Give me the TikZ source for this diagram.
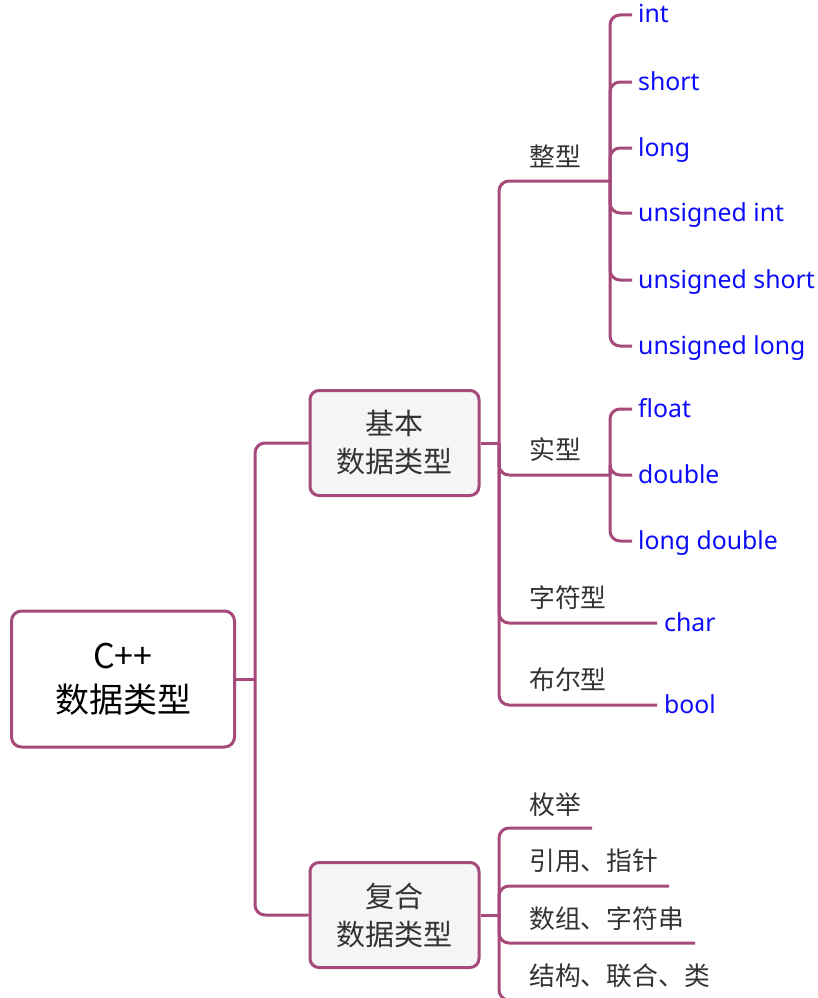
\documentclass[tikz,border=0pt]{standalone}
\usepackage{fontspec}
\setmainfont{Noto Sans CJK SC}
\newfontfamily\latinfont{Noto Sans}
\definecolor{lc}{RGB}{166,74,124}
\definecolor{tc}{RGB}{51,51,51}
\definecolor{bl}{RGB}{12,12,250}
\definecolor{nodefill}{RGB}{245,245,245}
\tikzset{
  conn/.style={draw=lc, line width=3pt, rounded corners=10pt},
  rootbox/.style={draw=lc, line width=3pt, rounded corners=10pt, fill=white, align=center,
    minimum width=223pt, minimum height=136pt, inner sep=0pt, text=black,
    font=\fontsize{34}{44}\selectfont},
  subbox/.style={draw=lc, line width=3pt, rounded corners=9pt, fill=nodefill, align=center,
    minimum width=169pt, minimum height=105pt, inner sep=0pt, text=tc,
    font=\fontsize{29}{38}\selectfont},
  leaf/.style={anchor=west, inner sep=0pt, text height=20pt, text depth=4pt, text=bl,
    font=\latinfont\fontsize{24.8}{30}\selectfont},
  lab/.style={anchor=base west, inner sep=0pt, text=tc, font=\fontsize{25.8}{30}\selectfont},
}
\begin{document}
\begin{tikzpicture}[x=1pt,y=-1pt]
\clip (0,0) rectangle (817,998);
\fill[white] (0,0) rectangle (817,998);
% main nodes
\node[rootbox] (root) at (123,679) {C++\\数据类型};
\node[subbox] (basic) at (394.5,443) {基本\\数据类型};
\node[subbox] (comp) at (394.5,915) {复合\\数据类型};
% junctions
\coordinate (j0) at (255,679);
\coordinate (j1) at (499,443);
\coordinate (j2) at (499,915);
\coordinate (zx) at (610,181);
\coordinate (sx) at (610,475);
% root branches
\draw[conn] (root.east) -- (j0);
\draw[conn] (j0) |- (basic.west);
\draw[conn] (j0) |- (comp.west);
% basic labels
\node[lab] (zheng) at (529,166) {整型};
\node[lab] (shi) at (529,459) {实型};
\node[lab] (zifu) at (529,607) {字符型};
\node[lab] (buer) at (529,689) {布尔型};
% leaves
\node[leaf] (int) at (638,15) {int};
\node[leaf] (short) at (638,82) {short};
\node[leaf] (long) at (638,148) {long};
\node[leaf] (uint) at (638,213) {unsigned int};
\node[leaf] (ushort) at (638,280) {unsigned short};
\node[leaf] (ulong) at (638,346) {unsigned long};
\node[leaf] (float) at (638,409) {float};
\node[leaf] (double) at (638,475) {double};
\node[leaf] (ldouble) at (638,541) {long double};
\node[leaf] (char) at (664,623) {char};
\node[leaf] (bool) at (664,705) {bool};
% basic connectors
\draw[conn] (basic.east) -- (j1);
\draw[conn] (j1) |- (zx);
\draw[conn] (j1) |- (sx);
\draw[conn] (j1) |- ([xshift=-7pt]char.west);
\draw[conn] (j1) |- ([xshift=-7pt]bool.west);
\foreach \n in {int,short,long,uint,ushort,ulong}
  \draw[conn] (zx) |- ([xshift=-6pt]\n.west);
\foreach \n in {float,double,ldouble}
  \draw[conn] (sx) |- ([xshift=-6pt]\n.west);
% compound
\node[lab] (meiju) at (529,814) {枚举};
\node[lab] (yinyong) at (529,870) {引用、指针};
\node[lab] (shuzu) at (529,928) {数组、字符串};
\node[lab] (jiegou) at (529,985) {结构、联合、类};
\coordinate (e1) at (592,828);
\coordinate (e2) at (669,886);
\coordinate (e3) at (695,943);
\coordinate (e4) at (720,1000);
\draw[conn] (comp.east) -- (j2);
\foreach \e in {e1,e2,e3,e4}
  \draw[conn] (j2) |- (\e);
\end{tikzpicture}
\end{document}
